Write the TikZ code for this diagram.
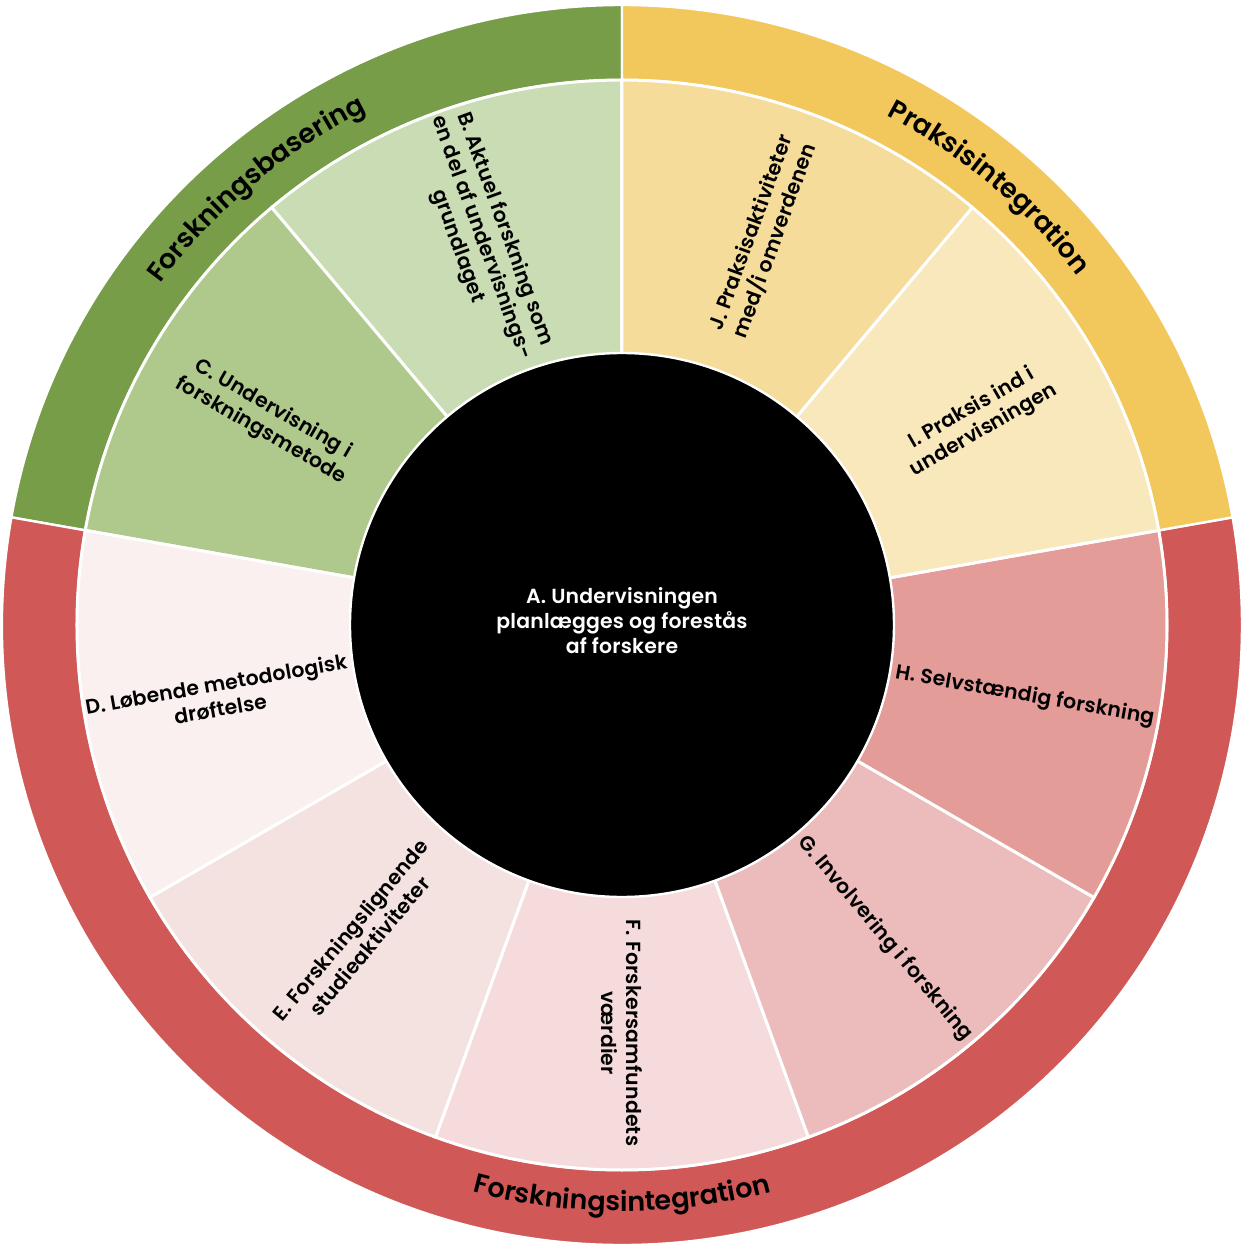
\documentclass[tikz,border=0pt]{standalone}
\usepackage{fontspec}
\setmainfont{Poppins}[BoldFont={Poppins SemiBold}, LetterSpace=1]
\usetikzlibrary{decorations.text}
\definecolor{bandgreen}{HTML}{789D49}
\definecolor{bandyellow}{HTML}{F2C85C}
\definecolor{bandred}{HTML}{D05957}
\definecolor{segB}{HTML}{C9DCB4}
\definecolor{segC}{HTML}{AFC98C}
\definecolor{segD}{HTML}{F9F0EF}
\definecolor{segE}{HTML}{F3E2E0}
\definecolor{segF}{HTML}{F5DBDB}
\definecolor{segG}{HTML}{ECBBBB}
\definecolor{segH}{HTML}{E39C98}
\definecolor{segI}{HTML}{F9E8BC}
\definecolor{segJ}{HTML}{F5DC9B}
% #1 colour, #2 start angle, #3 end angle, #4 inner radius, #5 outer radius, #6 line width
\newcommand{\ringsector}[6]{%
  \filldraw[fill=#1, draw=white, line width=#6, line join=miter]
    (#2:#4) -- (#2:#5) arc[start angle=#2, end angle=#3, radius=#5]
    -- (#3:#4) arc[start angle=#3, end angle=#2, radius=#4] -- cycle;}
\tikzset{
  seglabel/.style={font=\bfseries\fontsize{10.2}{12.5}\selectfont, align=center, text=black, inner sep=0pt},
  centerlabel/.style={font=\bfseries\fontsize{10.2}{12.5}\selectfont, align=center, text=white, inner sep=0pt},
  bandlabel/.style={decorate, decoration={text along path, text align=center, text={|\bfseries\fontsize{13.5}{16}\selectfont|#1}}}
}
\begin{document}
\begin{tikzpicture}[x=0.5pt,y=0.5pt]
\useasboundingbox (-622,-625) rectangle (623,625);
% outer band
\ringsector{bandgreen}{90}{170}{545}{620}{1.2pt}
\ringsector{bandred}{170}{370}{545}{620}{1.2pt}
\ringsector{bandyellow}{10}{90}{545}{620}{1.2pt}
% segments
\ringsector{segB}{90}{130}{200}{545}{1.5pt}
\ringsector{segC}{130}{170}{200}{545}{1.5pt}
\ringsector{segD}{170}{210}{200}{545}{1.5pt}
\ringsector{segE}{210}{250}{200}{545}{1.5pt}
\ringsector{segF}{250}{290}{200}{545}{1.5pt}
\ringsector{segG}{290}{330}{200}{545}{1.5pt}
\ringsector{segH}{330}{370}{200}{545}{1.5pt}
\ringsector{segI}{10}{50}{200}{545}{1.5pt}
\ringsector{segJ}{50}{90}{200}{545}{1.5pt}
% centre
\filldraw[fill=black, draw=white, line width=1.2pt] (0,0) circle[radius=272];
\node[centerlabel] (A) at (0,4) {A. Undervisningen\\planlægges og forestås\\af forskere};
% segment labels
\node[seglabel, rotate=-70] (B) at (110:412) {B. Aktuel forskning som\\en del af undervisnings-\\grundlaget};
\node[seglabel, rotate=-30] (C) at (150:410) {C. Undervisning i\\forskningsmetode};
\node[seglabel, rotate=10]  (D) at (190:410) {D. Løbende metodologisk\\drøftelse};
\node[seglabel, rotate=50]  (E) at (230:408) {E. Forskningslignende\\studieaktiviteter};
\node[seglabel, rotate=-90] (F) at (270:408) {F. Forskersamfundets\\værdier};
\node[seglabel, rotate=-50] (G) at (310:409) {G. Involvering i forskning};
\node[seglabel, rotate=-10] (H) at (350:409) {H. Selvstændig forskning};
\node[seglabel, rotate=30]  (I) at (30:411)  {I. Praksis ind i\\undervisningen};
\node[seglabel, rotate=70]  (J) at (70:413)  {J. Praksisaktiviteter\\med/i omverdenen};
% band labels
\path[bandlabel=Forskningsbasering] (170:574) arc[start angle=170, end angle=90, radius=574];
\path[bandlabel=Praksisintegration] (90:574) arc[start angle=90, end angle=10, radius=574];
\path[bandlabel=Forskningsintegration] (190:586) arc[start angle=190, end angle=350, radius=586];
\end{tikzpicture}
\end{document}
